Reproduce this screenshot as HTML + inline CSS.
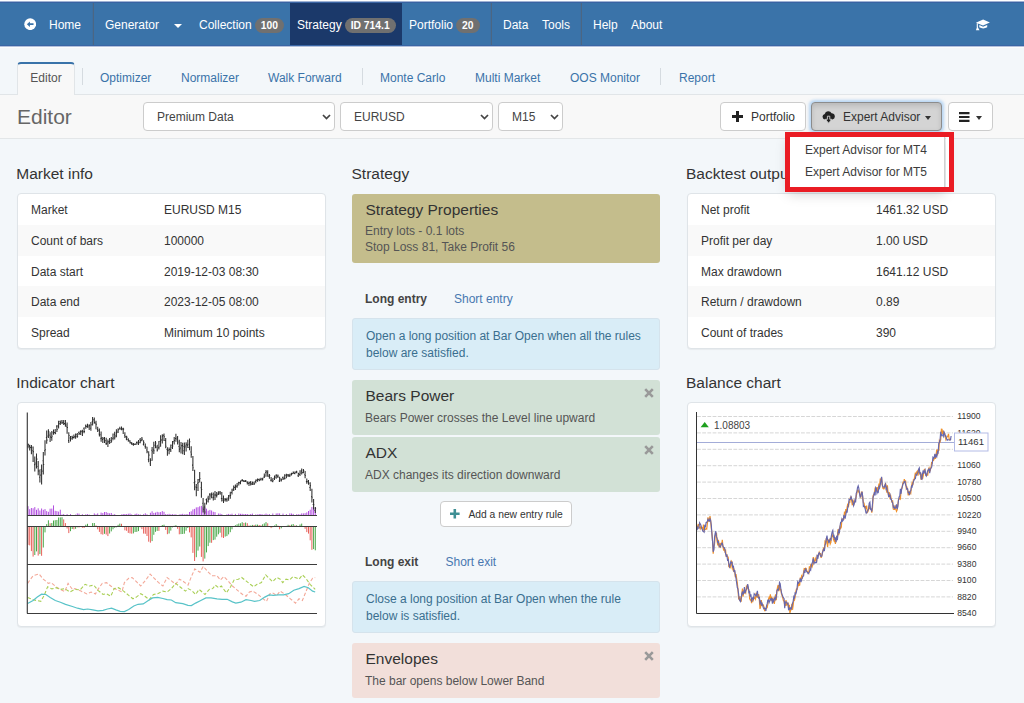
<!DOCTYPE html>
<html>
<head>
<meta charset="utf-8">
<title>Editor</title>
<style>
*{box-sizing:border-box;}
html,body{margin:0;padding:0;}
body{width:1024px;height:703px;overflow:hidden;background:#f3f7fa;font-family:"Liberation Sans",Arial,sans-serif;font-size:12px;color:#333;position:relative;}
.abs{position:absolute;}
#topline{left:0;top:0;width:1024px;height:3px;background:linear-gradient(#fff 0,#fff 1px,#9fb2d4 1px,#9fb2d4 2px,#3963a2 2px,#3963a2 3px);z-index:5;}
#botline{left:0;top:45px;width:1024px;height:3px;background:linear-gradient(#3a66a5 0,#3a66a5 1px,#b3c1dc 1px,#b3c1dc 2px,#fbfcfd 2px,#fbfcfd 3px);z-index:5;}
#nav{left:0;top:2px;width:1024px;height:44px;background:#3a73a9;}
#nav .it{position:absolute;top:0;height:44px;line-height:46px;color:#fff;font-size:12px;white-space:nowrap;}
#nav .sep{position:absolute;top:0;width:1px;height:44px;background:#4b6683;box-shadow:-1px 0 0 rgba(70,100,140,.25);}
#nav .badge{display:inline-block;background:#707070;color:#fff;font-weight:bold;font-size:10.3px;line-height:15px;height:15px;padding:0 6px;border-radius:8px;vertical-align:middle;position:relative;top:-0.5px;margin-left:3px;}
#nav .active{background:#1b396a;}
.caret{display:inline-block;width:0;height:0;border-left:4px solid transparent;border-right:4px solid transparent;border-top:4px solid currentColor;vertical-align:middle;}
#tabs{left:0;top:46px;width:1024px;height:49px;border-bottom:1px solid #e1e5e8;}
#tabs .t{position:absolute;top:16px;height:33px;line-height:32px;color:#3a73a9;font-size:12px;white-space:nowrap;}
#tabs .act{left:17px;width:58px;top:16px;height:33px;background:#f8f8f8;border:1px solid #e1e5e8;border-top:2px solid #3a73a9;border-bottom:none;border-radius:4px 4px 0 0;color:#555;text-align:center;line-height:28px;}
#tabs .vs{position:absolute;top:22px;width:1px;height:17px;background:#d5dbe0;}
#bar{left:0;top:95px;width:1024px;height:44px;border-bottom:1px solid #e3e6e8;background:#f8f8f8;}
#bar h1{position:absolute;left:17px;top:0;margin:0;font-size:21px;font-weight:normal;color:#666;line-height:43px;}
.sel{position:absolute;top:7px;height:29px;background:#fff;border:1px solid #ccc;border-radius:4px;line-height:29px;padding-left:13px;color:#444;font-size:12px;}
.sel svg{position:absolute;right:3px;top:11px;}
.btn{position:absolute;top:7px;height:29px;background:#fff;border:1px solid #ccc;border-radius:4px;line-height:29px;color:#333;font-size:12px;white-space:nowrap;}
h3{position:absolute;margin:0;font-size:15.5px;font-weight:normal;color:#333;line-height:18px;}
.panel{position:absolute;background:#fff;border:1px solid #dfe4e8;border-radius:4px;box-shadow:0 1px 1px rgba(0,0,0,.05);overflow:hidden;}
.row{position:relative;height:30.8px;line-height:32.8px;font-size:12px;color:#333;}
.row.alt{background:#f9f9f9;}
.row span{position:absolute;top:0;}
.slot{position:absolute;left:352px;width:308px;border-radius:3px;}
.slot .h{position:absolute;left:13.5px;font-size:15.5px;color:#333;white-space:nowrap;}
.slot .d{position:absolute;left:13px;font-size:12px;color:#555;white-space:nowrap;}
.slot .x{position:absolute;right:6px;top:7.5px;width:10px;height:10px;}
.info{position:absolute;left:352px;width:308px;background:#d9edf7;border:1px solid #d5e3ec;border-radius:3px;color:#3a6f8f;font-size:12px;line-height:17.2px;padding:8.6px 13px;white-space:nowrap;}
</style>
</head>
<body>
<div id="topline" class="abs"></div><div id="botline" class="abs"></div>

<div id="nav" class="abs">
  <div class="it" style="left:24px;width:14px;"><svg width="12.4" height="12.4" viewBox="0 0 13 13" style="position:absolute;top:15.7px;left:-0.4px"><circle cx="6.5" cy="6.5" r="6.2" fill="#fff"/><path d="M3 6.5 L6.2 3.6 L6.2 5.6 L10 5.6 L10 7.4 L6.2 7.4 L6.2 9.4 Z" fill="#3a73a9"/></svg></div>
  <div class="it" style="left:49px;">Home</div>
  <div class="sep" style="left:93px;"></div>
  <div class="it" style="left:105px;">Generator</div>
  <div class="it" style="left:174px;"><span class="caret"></span></div>
  <div class="it" style="left:199px;">Collection<span class="badge">100</span></div>
  <div class="it active" style="left:290px;width:112px;padding-left:7px;">Strategy<span class="badge">ID 714.1</span></div>
  <div class="it" style="left:409px;">Portfolio<span class="badge">20</span></div>
  <div class="sep" style="left:491px;"></div>
  <div class="it" style="left:503px;">Data</div>
  <div class="it" style="left:542px;">Tools</div>
  <div class="sep" style="left:581px;"></div>
  <div class="it" style="left:593px;">Help</div>
  <div class="it" style="left:631px;">About</div>
  <div class="it" style="left:975px;"><svg width="16" height="14" viewBox="0 0 16 14" style="position:absolute;top:16px;left:0"><path d="M0.9 4.7 L8.1 1.6 L14.9 4.5 L8 7.5 Z" fill="#fff"/><path d="M4.3 7.1 L8.1 8.8 L12.2 7.0 L12.2 9.3 Q8.2 11.6 4.3 9.3 Z" fill="#fff"/><path d="M2.3 5.2 L2.3 9.5" stroke="#fff" stroke-width="1.1"/><path d="M2.3 8.2 L0.9 12.3 L4.5 12.3 Z" fill="#fff"/></svg></div>
</div>

<div id="tabs" class="abs">
  <div class="t act">Editor</div>
  <div class="vs" style="left:82px;"></div>
  <div class="t" style="left:100px;">Optimizer</div>
  <div class="t" style="left:181px;">Normalizer</div>
  <div class="t" style="left:268px;">Walk Forward</div>
  <div class="vs" style="left:362px;"></div>
  <div class="t" style="left:380px;">Monte Carlo</div>
  <div class="t" style="left:475px;">Multi Market</div>
  <div class="t" style="left:570px;">OOS Monitor</div>
  <div class="vs" style="left:660px;"></div>
  <div class="t" style="left:679px;">Report</div>
</div>

<div id="bar" class="abs">
  <h1>Editor</h1>
  <div class="sel" style="left:143px;width:192px;">Premium Data<svg width="9" height="6" viewBox="0 0 9 6"><path d="M1 1 L4.5 4.6 L8 1" fill="none" stroke="#444" stroke-width="1.7"/></svg></div>
  <div class="sel" style="left:340px;width:153px;">EURUSD<svg width="9" height="6" viewBox="0 0 9 6"><path d="M1 1 L4.5 4.6 L8 1" fill="none" stroke="#444" stroke-width="1.7"/></svg></div>
  <div class="sel" style="left:498px;width:65px;">M15<svg width="9" height="6" viewBox="0 0 9 6"><path d="M1 1 L4.5 4.6 L8 1" fill="none" stroke="#444" stroke-width="1.7"/></svg></div>
  <div class="btn" style="left:720px;width:86px;"><svg width="11" height="11" viewBox="0 0 11 11" style="position:absolute;left:11px;top:8px;"><path d="M4 0h3v4h4v3h-4v4h-3v-4h-4v-3h4z" fill="#222"/></svg><span style="position:absolute;left:30px;">Portfolio</span></div>
  <div class="btn" style="left:811px;width:131px;background:#d4d4d4;border-color:#8c8c8c;box-shadow:inset 0 3px 5px rgba(0,0,0,.125),0 0 3px 1.5px rgba(120,180,240,.5);"><svg width="14" height="13" viewBox="0 0 14 13" style="position:absolute;left:10px;top:8px;"><path d="M3.4 8.6 A2.9 2.9 0 0 1 2.7 2.9 A3.7 3.7 0 0 1 9.6 2.3 A3.2 3.2 0 0 1 10.4 8.6 Z" fill="#222"/><path d="M6.6 12.2 L3.4 8.3 L5.4 8.3 L5.4 5.2 L7.8 5.2 L7.8 8.3 L9.8 8.3 Z" fill="#222" stroke="#d4d4d4" stroke-width="0.9"/></svg><span style="position:absolute;left:31px;">Expert Advisor</span><span class="caret" style="position:absolute;left:113px;top:13px;border-width:4px 3.5px 0 3.5px;"></span></div>
  <div class="btn" style="left:948px;width:45px;"><svg width="11" height="10" viewBox="0 0 11 10" style="position:absolute;left:10px;top:9px;"><path d="M0 0h10.5v2.2h-10.5zM0 3.9h10.5v2.2h-10.5zM0 7.8h10.5v2.2h-10.5z" fill="#222"/></svg><span class="caret" style="position:absolute;left:27px;top:13px;border-width:4px 3.5px 0 3.5px;"></span></div>
</div>

<!-- LEFT COLUMN -->
<h3 style="left:16.3px;top:165px;">Market info</h3>
<div class="panel" style="left:17px;top:193px;width:309px;height:156px;">
  <div class="row"><span style="left:13px;">Market</span><span style="left:146px;">EURUSD M15</span></div>
  <div class="row alt"><span style="left:13px;">Count of bars</span><span style="left:146px;">100000</span></div>
  <div class="row"><span style="left:13px;">Data start</span><span style="left:146px;">2019-12-03 08:30</span></div>
  <div class="row alt"><span style="left:13px;">Data end</span><span style="left:146px;">2023-12-05 08:00</span></div>
  <div class="row"><span style="left:13px;">Spread</span><span style="left:146px;">Minimum 10 points</span></div>
</div>
<h3 style="left:16.3px;top:374px;">Indicator chart</h3>
<div class="panel" id="indpanel" style="left:17px;top:402px;width:309px;height:225px;">
<!--INDCHART-->
</div>

<!-- MIDDLE COLUMN -->
<h3 style="left:351.5px;top:165px;">Strategy</h3>
<div class="slot" style="top:194px;height:69px;background:#c4bd8c;">
  <div class="h" style="top:6.5px;">Strategy Properties</div>
  <div class="d" style="top:30.3px;line-height:15.3px;">Entry lots - 0.1 lots<br>Stop Loss 81, Take Profit 56</div>
</div>
<div class="abs" style="left:365px;top:292px;font-weight:bold;font-size:12px;color:#444;">Long entry</div>
<div class="abs" style="left:454px;top:292px;font-size:12px;color:#4878b0;">Short entry</div>
<div class="info" style="top:318px;height:52px;">Open a long position at Bar Open when all the rules<br>below are satisfied.</div>
<div class="slot" style="top:380px;height:55px;background:#d2e1d6;">
  <div class="h" style="top:7px;">Bears Power</div>
  <div class="d" style="top:31px;">Bears Power crosses the Level line upward</div>
  <svg class="x" viewBox="0 0 10 10"><path d="M1.2 1.2L8.8 8.8M8.8 1.2L1.2 8.8" stroke="#999" stroke-width="2.6"/></svg>
</div>
<div class="slot" style="top:437px;height:55px;background:#d2e1d6;">
  <div class="h" style="top:7px;">ADX</div>
  <div class="d" style="top:31px;">ADX changes its direction downward</div>
  <svg class="x" viewBox="0 0 10 10"><path d="M1.2 1.2L8.8 8.8M8.8 1.2L1.2 8.8" stroke="#999" stroke-width="2.6"/></svg>
</div>
<div class="btn" style="left:440px;top:501px;width:132px;height:26px;line-height:25px;font-size:10.3px;border-color:#ccc;"><svg width="9.6" height="9.6" viewBox="0 0 9 9" style="position:absolute;left:9px;top:7.2px;"><path d="M3.3 0h2.4v3.3h3.3v2.4h-3.3v3.3h-2.4v-3.3h-3.3v-2.4h3.3z" fill="#3e8f94"/></svg><span style="position:absolute;left:27.4px;">Add a new entry rule</span></div>
<div class="abs" style="left:365px;top:555px;font-weight:bold;font-size:12px;color:#444;">Long exit</div>
<div class="abs" style="left:445.5px;top:555px;font-size:12px;color:#4878b0;">Short exit</div>
<div class="info" style="top:581px;height:52px;">Close a long position at Bar Open when the rule<br>below is satisfied.</div>
<div class="slot" style="top:643px;height:55px;background:#f2dfda;">
  <div class="h" style="top:6.5px;">Envelopes</div>
  <div class="d" style="top:30.5px;">The bar opens below Lower Band</div>
  <svg class="x" viewBox="0 0 10 10"><path d="M1.2 1.2L8.8 8.8M8.8 1.2L1.2 8.8" stroke="#999" stroke-width="2.6"/></svg>
</div>

<!-- RIGHT COLUMN -->
<h3 style="left:686px;top:165px;">Backtest output</h3>
<div class="panel" style="left:687px;top:193px;width:309px;height:156px;">
  <div class="row"><span style="left:13px;">Net profit</span><span style="left:188px;">1461.32 USD</span></div>
  <div class="row alt"><span style="left:13px;">Profit per day</span><span style="left:188px;">1.00 USD</span></div>
  <div class="row"><span style="left:13px;">Max drawdown</span><span style="left:188px;">1641.12 USD</span></div>
  <div class="row alt"><span style="left:13px;">Return / drawdown</span><span style="left:188px;">0.89</span></div>
  <div class="row"><span style="left:13px;">Count of trades</span><span style="left:188px;">390</span></div>
</div>
<h3 style="left:686px;top:374px;">Balance chart</h3>
<div class="panel" id="balpanel" style="left:687px;top:402px;width:309px;height:225px;">
<!--BALCHART-->
</div>











<!--INDSTART--><svg class="abs" style="left:0;top:0;" width="1024" height="703">
<path d="M28.0 515V506.2M29.7 515V509.2M31.4 515V508.0M33.1 515V508.3M34.8 515V507.1M36.5 515V509.8M38.2 515V508.3M39.9 515V510.5M41.6 515V508.5M43.3 515V509.8M45.0 515V509.1M46.7 515V511.1M48.4 515V511.8M50.1 515V508.7M51.8 515V508.6M53.5 515V505.4M55.2 515V510.8M56.9 515V511.1M58.6 515V511.6M60.3 515V509.7M62.0 515V514.5M63.7 515V514.1M65.4 515V515.0M67.1 515V514.1M68.8 515V515.0M70.5 515V514.1M72.2 515V515.0M73.9 515V515.0M75.6 515V514.6M77.3 515V513.4M79.0 515V513.6M80.7 515V515.0M82.4 515V514.2M84.1 515V515.0M85.8 515V514.3M87.5 515V514.2M89.2 515V514.6M90.9 515V515.0M92.6 515V515.0M94.3 515V513.4M96.0 515V514.3M97.7 515V513.4M99.4 515V515.0M101.1 515V512.6M102.8 515V513.1M104.5 515V512.0M106.2 515V512.0M107.9 515V512.9M109.6 515V513.3M111.3 515V513.0M113.0 515V514.6M114.7 515V514.2M116.4 515V515.0M118.1 515V515.0M119.8 515V515.0M121.5 515V514.5M123.2 515V514.0M124.9 515V514.0M126.6 515V514.1M128.3 515V513.7M130.0 515V513.5M131.7 515V514.4M133.4 515V515.0M135.1 515V513.9M136.8 515V513.6M138.5 515V514.3M140.2 515V514.4M141.9 515V515.0M143.6 515V514.2M145.3 515V513.3M147.0 515V514.3M148.7 515V515.0M150.4 515V512.8M152.1 515V511.3M153.8 515V512.9M155.5 515V512.6M157.2 515V511.8M158.9 515V512.3M160.6 515V512.1M162.3 515V511.1M164.0 515V511.8M165.7 515V514.1M167.4 515V514.3M169.1 515V513.8M170.8 515V514.3M172.5 515V514.2M174.2 515V514.4M175.9 515V514.3M177.6 515V515.0M179.3 515V514.5M181.0 515V514.1M182.7 515V513.8M184.4 515V514.4M186.1 515V514.1M187.8 515V514.2M189.5 515V512.0M191.2 515V511.3M192.9 515V509.4M194.6 515V508.9M196.3 515V507.4M198.0 515V507.2M199.7 515V506.3M201.4 515V505.9M203.1 515V507.3M204.8 515V507.5M206.5 515V508.7M208.2 515V510.7M209.9 515V509.9M211.6 515V510.5M213.3 515V511.8M215.0 515V512.1M216.7 515V515.0M218.4 515V513.5M220.1 515V513.6M221.8 515V514.1M223.5 515V515.0M225.2 515V515.0M226.9 515V514.3M228.6 515V513.9M230.3 515V514.4M232.0 515V513.7M233.7 515V515.0M235.4 515V513.9M237.1 515V515.0M238.8 515V513.5M240.5 515V513.8M242.2 515V513.8M243.9 515V514.1M245.6 515V514.0M247.3 515V514.0M249.0 515V514.6M250.7 515V514.0M252.4 515V513.6M254.1 515V515.0M255.8 515V514.4M257.5 515V514.5M259.2 515V514.0M260.9 515V514.0M262.6 515V514.5M264.3 515V514.5M266.0 515V513.6M267.7 515V514.5M269.4 515V514.1M271.1 515V515.0M272.8 515V513.5M274.5 515V515.0M276.2 515V513.5M277.9 515V513.3M279.6 515V513.4M281.3 515V515.0M283.0 515V513.6M284.7 515V515.0M286.4 515V514.1M288.1 515V515.0M289.8 515V513.4M291.5 515V513.5M293.2 515V513.9M294.9 515V515.0M296.6 515V514.3M298.3 515V514.2M300.0 515V514.4M301.7 515V513.4M303.4 515V513.4M305.1 515V513.2M306.8 515V512.4M308.5 515V511.0M310.2 515V509.7M311.9 515V507.0M313.6 515V507.2M315.3 515V508.3" stroke="#b24fe0" stroke-width="1" fill="none"/>
<path d="M28.0 443.4V448.3M27.1 446.3H28.0M28.0 444.6H28.9M29.7 444.8V450.4M28.8 446.1H29.7M29.7 447.6H30.6M31.4 445.0V454.2M30.5 447.2H31.4M31.4 447.3H32.2M33.1 446.4V462.1M32.2 450.7H33.1M33.1 451.7H34.0M34.8 456.4V471.5M34.0 464.7H34.8M34.8 463.0H35.7M36.5 453.5V468.5M35.7 464.3H36.5M36.5 459.1H37.4M38.2 461.1V475.3M37.4 466.5H38.2M38.2 470.9H39.1M39.9 469.6V482.6M39.1 477.2H39.9M39.9 475.1H40.8M41.6 464.6V484.6M40.8 469.4H41.6M41.6 471.1H42.5M43.3 452.0V474.5M42.5 460.7H43.3M43.3 464.4H44.2M45.0 440.3V455.5M44.2 450.6H45.0M45.0 449.7H45.9M46.7 430.6V443.8M45.9 437.4H46.7M46.7 440.1H47.6M48.4 429.2V437.9M47.6 436.1H48.4M48.4 431.6H49.3M50.1 432.2V442.0M49.3 435.1H50.1M50.1 437.0H51.0M51.8 431.1V440.7M51.0 437.4H51.8M51.8 436.3H52.7M53.5 429.6V434.8M52.7 432.8H53.5M53.5 432.5H54.4M55.2 429.1V434.3M54.4 432.8H55.2M55.2 433.1H56.1M56.9 425.1V432.1M56.1 426.8H56.9M56.9 429.4H57.8M58.6 420.7V428.5M57.8 426.1H58.6M58.6 423.6H59.5M60.3 420.4V425.1M59.5 421.4H60.3M60.3 422.6H61.2M62.0 420.1V424.1M61.2 421.0H62.0M62.0 422.7H62.9M63.7 420.0V424.9M62.9 422.2H63.7M63.7 423.6H64.6M65.4 420.0V426.7M64.6 423.6H65.4M65.4 424.9H66.3M67.1 422.5V433.7M66.3 426.6H67.1M67.1 427.5H68.0M68.8 432.2V443.0M68.0 440.6H68.8M68.8 435.4H69.7M70.5 436.0V441.4M69.7 437.9H70.5M70.5 438.7H71.4M72.2 435.8V439.7M71.4 436.6H72.2M72.2 437.6H73.1M73.9 434.4V438.4M73.1 437.5H73.9M73.9 436.9H74.8M75.6 433.4V438.7M74.8 436.6H75.6M75.6 434.6H76.5M77.3 433.0V437.7M76.5 436.4H77.3M77.3 436.2H78.2M79.0 431.6V435.1M78.2 432.5H79.0M79.0 433.6H79.9M80.7 430.3V434.9M79.9 431.8H80.7M80.7 431.7H81.6M82.4 429.8V436.1M81.6 431.0H82.4M82.4 431.6H83.3M84.1 427.2V433.2M83.3 428.5H84.1M84.1 431.5H85.0M85.8 424.5V428.7M85.0 426.0H85.8M85.8 426.2H86.7M87.5 423.7V427.7M86.7 426.6H87.5M87.5 426.9H88.4M89.2 424.2V430.1M88.4 425.7H89.2M89.2 425.7H90.1M90.9 422.1V430.8M90.1 428.2H90.9M90.9 424.7H91.8M92.6 417.1V425.5M91.8 421.4H92.6M92.6 419.5H93.5M94.3 417.4V423.7M93.5 420.7H94.3M94.3 422.4H95.2M96.0 420.7V429.2M95.2 423.8H96.0M96.0 424.3H96.9M97.7 426.7V431.9M96.9 429.4H97.7M97.7 430.2H98.6M99.4 428.4V436.4M98.6 433.9H99.4M99.4 434.7H100.3M101.1 431.5V441.7M100.3 438.6H101.1M101.1 438.1H102.0M102.8 437.0V442.9M102.0 439.5H102.8M102.8 438.3H103.7M104.5 436.9V442.9M103.7 439.0H104.5M104.5 440.6H105.4M106.2 437.8V444.9M105.4 443.2H106.2M106.2 443.4H107.1M107.9 439.5V447.1M107.1 442.0H107.9M107.9 442.0H108.8M109.6 438.0V444.1M108.8 441.5H109.6M109.6 442.5H110.5M111.3 437.1V442.7M110.5 440.4H111.3M111.3 440.9H112.2M113.0 433.4V440.2M112.2 438.5H113.0M113.0 438.0H113.9M114.7 431.8V439.6M113.9 434.2H114.7M114.7 437.0H115.6M116.4 429.3V437.3M115.6 435.6H116.4M116.4 432.8H117.3M118.1 428.3V433.0M117.3 431.3H118.1M118.1 429.7H119.0M119.8 426.8V429.6M119.0 428.9H119.8M119.8 428.7H120.7M121.5 426.4V430.2M120.7 429.3H121.5M121.5 428.6H122.4M123.2 427.7V434.1M122.4 429.5H123.2M123.2 429.1H124.1M124.9 432.3V438.0M124.1 435.2H124.9M124.9 436.6H125.8M126.6 435.7V440.3M125.8 438.9H126.6M126.6 437.2H127.5M128.3 438.3V441.7M127.5 439.5H128.3M128.3 440.2H129.2M130.0 440.3V443.4M129.2 441.1H130.0M130.0 442.6H130.9M131.7 442.1V444.8M130.9 443.6H131.7M131.7 444.1H132.6M133.4 442.9V445.7M132.6 444.3H133.4M133.4 444.3H134.3M135.1 443.5V445.0M134.3 444.2H135.1M135.1 443.9H136.0M136.8 441.4V444.7M136.0 442.4H136.8M136.8 443.0H137.7M138.5 440.1V444.9M137.7 442.0H138.5M138.5 442.6H139.4M140.2 438.1V443.2M139.4 439.4H140.2M140.2 440.8H141.1M141.9 437.1V441.3M141.1 439.9H141.9M141.9 439.2H142.8M143.6 440.3V445.6M142.8 444.2H143.6M143.6 442.7H144.5M145.3 443.6V448.8M144.5 446.2H145.3M145.3 446.8H146.2M147.0 446.8V453.3M146.2 450.0H147.0M147.0 451.8H147.9M148.7 451.3V462.2M147.9 459.6H148.7M148.7 455.1H149.6M150.4 458.3V466.0M149.6 463.7H150.4M150.4 460.5H151.2M152.1 446.9V460.8M151.2 450.3H152.1M152.1 451.7H152.9M153.8 441.8V454.0M152.9 450.0H153.8M153.8 450.8H154.6M155.5 441.1V448.2M154.6 445.3H155.5M155.5 443.1H156.3M157.2 444.8V451.5M156.3 447.1H157.2M157.2 450.0H158.0M158.9 440.9V449.6M158.0 447.8H158.9M158.9 447.0H159.7M160.6 435.3V446.8M159.7 441.2H160.6M160.6 439.9H161.4M162.3 434.2V443.4M161.4 440.0H162.3M162.3 436.1H163.1M164.0 433.6V441.1M163.1 435.2H164.0M164.0 436.6H164.8M165.7 438.0V448.3M164.8 440.5H165.7M165.7 446.2H166.5M167.4 447.2V455.8M166.5 449.5H167.4M167.4 450.3H168.2M169.1 447.6V454.3M168.2 450.0H169.1M169.1 449.5H169.9M170.8 444.6V452.1M169.9 449.8H170.8M170.8 447.3H171.6M172.5 440.9V448.9M171.6 445.3H172.5M172.5 445.9H173.3M174.2 437.1V444.4M173.3 441.6H174.2M174.2 440.4H175.0M175.9 433.8V441.7M175.0 438.4H175.9M175.9 439.2H176.7M177.6 436.0V444.4M176.7 438.0H177.6M177.6 442.0H178.4M179.3 439.8V452.3M178.4 446.5H179.3M179.3 449.2H180.1M181.0 442.0V453.4M180.1 447.9H181.0M181.0 445.9H181.8M182.7 442.8V454.2M181.8 445.4H182.7M182.7 446.5H183.5M184.4 442.5V455.1M183.5 450.8H184.4M184.4 447.2H185.2M186.1 442.2V451.6M185.2 446.0H186.1M186.1 444.2H186.9M187.8 439.8V448.1M186.9 445.1H187.8M187.8 444.2H188.6M189.5 438.6V450.3M188.6 447.5H189.5M189.5 441.7H190.3M191.2 446.2V457.8M190.3 451.9H191.2M191.2 454.3H192.0M192.9 455.9V470.9M192.0 465.1H192.9M192.9 467.8H193.7M194.6 469.8V490.3M193.7 482.6H194.6M194.6 481.7H195.4M196.3 484.1V496.2M195.4 486.9H196.3M196.3 487.4H197.1M198.0 478.9V491.0M197.1 483.2H198.0M198.0 482.5H198.8M199.7 472.1V482.6M198.8 479.6H199.7M199.7 478.4H200.5M201.4 481.7V497.8M200.5 487.7H201.4M201.4 489.4H202.2M203.1 498.1V512.4M202.2 503.2H203.1M203.1 509.2H203.9M204.8 502.8V514.5M203.9 506.9H204.8M204.8 511.9H205.6M206.5 498.6V504.6M205.6 499.8H206.5M206.5 501.1H207.3M208.2 495.7V502.4M207.3 497.9H208.2M208.2 499.1H209.0M209.9 493.0V499.7M209.0 494.7H209.9M209.9 495.9H210.7M211.6 492.5V498.2M210.7 494.7H211.6M211.6 494.4H212.4M213.3 492.6V500.6M212.4 497.8H213.3M213.3 497.3H214.1M215.0 491.0V500.0M214.1 494.9H215.0M215.0 494.6H215.8M216.7 492.0V497.5M215.8 495.5H216.7M216.7 495.2H217.5M218.4 491.3V495.1M217.5 494.1H218.4M218.4 493.5H219.2M220.1 491.0V494.8M219.2 492.1H220.1M220.1 493.0H220.9M221.8 491.9V501.4M220.9 498.4H221.8M221.8 498.5H222.6M223.5 495.6V503.1M222.6 500.1H223.5M223.5 500.2H224.3M225.2 497.9V501.6M224.3 498.9H225.2M225.2 499.4H226.0M226.9 497.7V501.7M226.0 499.8H226.9M226.9 500.0H227.7M228.6 495.1V500.7M227.7 497.9H228.6M228.6 496.3H229.4M230.3 491.7V498.7M229.4 495.2H230.3M230.3 495.4H231.1M232.0 488.7V494.5M231.1 492.4H232.0M232.0 490.7H232.8M233.7 485.6V491.0M232.8 489.1H233.7M233.7 487.4H234.5M235.4 484.5V490.0M234.5 487.2H235.4M235.4 486.9H236.2M237.1 483.0V487.7M236.2 486.1H237.1M237.1 485.7H237.9M238.8 481.7V485.6M237.9 482.8H238.8M238.8 483.1H239.6M240.5 480.4V484.2M239.6 482.5H240.5M240.5 481.2H241.3M242.2 479.0V481.4M241.3 480.5H242.2M242.2 480.5H243.0M243.9 479.9V482.0M243.0 481.0H243.9M243.9 480.9H244.7M245.6 480.1V481.9M244.7 481.4H245.6M245.6 480.7H246.4M247.3 481.2V484.6M246.4 481.9H247.3M247.3 482.8H248.1M249.0 481.4V485.9M248.1 483.5H249.0M249.0 483.0H249.8M250.7 481.1V485.6M249.8 482.6H250.7M250.7 483.6H251.5M252.4 481.4V485.1M251.5 484.2H252.4M252.4 482.4H253.2M254.1 481.4V484.9M253.2 484.0H254.1M254.1 483.6H254.9M255.8 479.4V483.3M254.9 481.4H255.8M255.8 480.3H256.6M257.5 478.6V481.8M256.6 480.1H257.5M257.5 479.8H258.3M259.2 478.4V481.2M258.3 479.5H259.2M259.2 480.3H260.0M260.9 477.7V480.6M260.0 479.8H260.9M260.9 478.5H261.7M262.6 477.7V480.6M261.7 479.8H262.6M262.6 478.8H263.4M264.3 473.5V478.0M263.4 477.1H264.3M264.3 476.0H265.1M266.0 470.0V476.7M265.1 472.4H266.0M266.0 471.5H266.8M267.7 470.2V476.8M266.8 472.7H267.7M267.7 475.2H268.5M269.4 474.1V478.8M268.5 476.5H269.4M269.4 475.6H270.2M271.1 477.0V481.4M270.2 480.3H271.1M271.1 480.1H271.9M272.8 478.2V482.3M271.9 481.3H272.8M272.8 480.4H273.6M274.5 475.5V479.9M273.6 478.3H274.5M274.5 477.5H275.3M276.2 474.2V478.8M275.3 475.9H276.2M276.2 475.3H277.0M277.9 474.5V478.0M277.0 476.2H277.9M277.9 475.9H278.7M279.6 476.8V482.0M278.7 480.9H279.6M279.6 478.6H280.4M281.3 478.4V481.4M280.4 480.0H281.3M281.3 479.7H282.1M283.0 476.5V479.9M282.1 477.6H283.0M283.0 479.0H283.8M284.7 474.3V479.5M283.8 478.2H284.7M284.7 478.5H285.5M286.4 473.7V478.3M285.5 475.2H286.4M286.4 474.9H287.2M288.1 474.0V477.0M287.2 475.0H288.1M288.1 475.1H288.9M289.8 473.7V477.0M288.9 475.8H289.8M289.8 475.2H290.6M291.5 472.8V475.5M290.6 473.9H291.5M291.5 473.9H292.3M293.2 471.5V473.9M292.3 473.4H293.2M293.2 472.2H294.0M294.9 471.4V474.2M294.0 473.4H294.9M294.9 472.3H295.7M296.6 470.7V473.3M295.7 471.9H296.6M296.6 471.9H297.4M298.3 472.7V477.0M297.4 475.8H298.3M298.3 473.6H299.1M300.0 470.3V475.9M299.1 474.4H300.0M300.0 473.0H300.8M301.7 468.4V474.5M300.8 471.0H301.7M301.7 473.0H302.5M303.4 469.0V473.3M302.5 472.4H303.4M303.4 470.5H304.2M305.1 471.1V478.3M304.2 474.8H305.1M305.1 475.5H305.9M306.8 478.4V483.8M305.9 481.6H306.8M306.8 482.0H307.6M308.5 480.1V484.8M307.6 481.2H308.5M308.5 483.2H309.3M310.2 482.3V491.1M309.3 487.5H310.2M310.2 485.7H311.0M311.9 488.7V502.6M311.0 496.8H311.9M311.9 497.3H312.7M313.6 499.0V509.5M312.7 504.4H313.6M313.6 504.8H314.4M315.3 507.0V513.1M314.4 510.4H315.3M315.3 508.2H316.1" stroke="#2e2e2e" stroke-width="1.05" fill="none"/>
<path d="M28.0 526.5V544.9M29.7 526.5V545.4M31.4 526.5V551.1M33.1 526.5V556.6M38.2 526.5V555.6M41.6 526.5V555.8M50.1 526.5V523.3M63.7 526.5V519.4M65.4 526.5V523.1M67.1 526.5V528.5M68.8 526.5V533.1M73.9 526.5V529.3M79.0 526.5V527.5M82.4 526.5V527.8M84.1 526.5V528.0M96.0 526.5V525.4M97.7 526.5V529.3M99.4 526.5V531.9M101.1 526.5V534.2M102.8 526.5V534.6M106.2 526.5V534.5M107.9 526.5V536.1M121.5 526.5V523.8M124.9 526.5V530.3M126.6 526.5V530.8M128.3 526.5V532.9M130.0 526.5V533.4M131.7 526.5V533.7M141.9 526.5V529.2M143.6 526.5V533.6M145.3 526.5V533.8M147.0 526.5V536.0M148.7 526.5V541.7M150.4 526.5V542.7M158.9 526.5V530.9M165.7 526.5V529.9M167.4 526.5V534.2M177.6 526.5V528.8M179.3 526.5V534.3M189.5 526.5V532.4M191.2 526.5V537.4M192.9 526.5V552.9M194.6 526.5V561.0M201.4 526.5V556.9M203.1 526.5V561.4M211.6 526.5V542.8M221.8 526.5V537.3M223.5 526.5V538.0M243.9 526.5V523.0M247.3 526.5V523.2M249.0 526.5V525.5M254.1 526.5V525.0M259.2 526.5V525.0M260.9 526.5V525.3M267.7 526.5V523.3M271.1 526.5V528.1M277.9 526.5V525.6M279.6 526.5V529.3M289.8 526.5V525.2M294.9 526.5V525.4M305.1 526.5V528.8M306.8 526.5V532.1M308.5 526.5V533.6M310.2 526.5V540.3M311.9 526.5V549.8" stroke="#e8605a" stroke-width="1" fill="none"/>
<path d="M34.8 526.5V555.0M36.5 526.5V551.4M39.9 526.5V554.1M43.3 526.5V547.5M45.0 526.5V532.4M46.7 526.5V524.1M48.4 526.5V520.3M51.8 526.5V523.0M53.5 526.5V520.5M55.2 526.5V520.2M56.9 526.5V520.0M58.6 526.5V517.5M60.3 526.5V517.4M62.0 526.5V517.2M70.5 526.5V531.2M72.2 526.5V529.0M75.6 526.5V528.8M77.3 526.5V527.3M85.8 526.5V524.7M87.5 526.5V523.8M92.6 526.5V523.1M94.3 526.5V523.0M104.5 526.5V533.8M109.6 526.5V533.5M111.3 526.5V531.4M113.0 526.5V529.3M114.7 526.5V527.8M116.4 526.5V527.3M118.1 526.5V524.8M119.8 526.5V523.6M133.4 526.5V533.4M135.1 526.5V532.0M136.8 526.5V531.9M138.5 526.5V531.1M140.2 526.5V527.3M152.1 526.5V541.1M153.8 526.5V534.8M155.5 526.5V531.8M157.2 526.5V530.9M162.3 526.5V525.0M164.0 526.5V524.7M169.1 526.5V533.5M170.8 526.5V530.6M172.5 526.5V527.4M174.2 526.5V525.8M175.9 526.5V525.2M181.0 526.5V534.1M182.7 526.5V534.0M184.4 526.5V533.7M186.1 526.5V530.7M187.8 526.5V528.0M196.3 526.5V557.2M198.0 526.5V550.6M199.7 526.5V546.5M204.8 526.5V558.6M206.5 526.5V552.4M208.2 526.5V546.1M209.9 526.5V542.7M213.3 526.5V540.1M215.0 526.5V539.6M216.7 526.5V536.7M218.4 526.5V534.3M220.1 526.5V532.7M225.2 526.5V536.6M226.9 526.5V536.1M228.6 526.5V534.4M230.3 526.5V532.2M232.0 526.5V529.3M235.4 526.5V525.2M237.1 526.5V524.3M238.8 526.5V523.5M240.5 526.5V523.3M242.2 526.5V522.2M245.6 526.5V522.5M250.7 526.5V525.5M252.4 526.5V524.9M255.8 526.5V524.6M257.5 526.5V524.6M262.6 526.5V524.3M264.3 526.5V523.4M266.0 526.5V522.1M272.8 526.5V527.2M274.5 526.5V525.5M276.2 526.5V524.1M281.3 526.5V528.3M286.4 526.5V525.9M288.1 526.5V524.8M291.5 526.5V524.6M293.2 526.5V524.0M296.6 526.5V525.3M300.0 526.5V524.5M301.7 526.5V523.6M313.6 526.5V549.1M315.3 526.5V550.3" stroke="#4aa84a" stroke-width="1" fill="none"/>
<polyline points="27.6,583.4 33.1,575.7 39.1,574.0 43.3,579.2 48.4,583.4 51.0,582.6 56.1,586.8 60.4,589.4 64.7,591.6 68.1,583.4 72.4,589.4 74.9,588.6 80.9,591.1 86.9,594.0 91.1,592.0 95.4,594.0 98.0,589.4 102.2,583.4 106.5,582.6 110.8,586.0 114.2,588.6 118.5,590.3 121.9,592.0 124.4,582.6 128.7,578.3 132.1,577.5 136.4,581.7 140.7,586.0 145.8,580.0 150.1,574.0 154.3,578.3 158.6,582.6 162.9,586.0 167.1,577.5 171.4,580.9 175.7,584.3 179.4,579.2 183.7,581.7 188.0,585.1 191.4,576.6 194.8,568.9 199.9,572.3 203.3,566.4 207.6,571.5 211.9,575.7 217.0,575.7 220.4,580.0 223.8,576.6 228.1,580.9 232.4,586.0 237.5,590.3 242.6,594.5 246.0,596.2 249.4,592.0 252.8,591.1 258.0,594.5 263.1,598.8 266.5,601.4 269.9,593.7 272.5,592.8 276.8,595.4 280.2,591.1 285.3,594.5 290.4,598.8 295.5,603.1 299.0,598.8 302.4,600.5 305.8,592.0 309.2,583.4 312.6,578.3 315.2,577.5" stroke="#f3a898" stroke-width="1.1" stroke-dasharray="3.5 2" fill="none"/>
<polyline points="27.6,597.4 33.1,599.7 40.8,601.4 44.2,595.4 47.6,586.8 51.9,588.9 56.1,587.7 60.4,589.4 64.7,588.6 69.8,592.0 74.9,589.4 80.0,589.9 85.2,584.3 89.4,586.0 93.7,585.1 98.0,590.3 103.1,594.5 106.5,593.7 110.8,596.2 114.2,588.6 118.5,587.7 123.6,591.1 128.7,595.4 133.0,598.8 136.4,597.1 140.7,593.7 144.9,596.2 149.2,599.7 153.5,594.5 157.7,593.7 162.9,591.1 167.1,592.0 171.4,588.6 175.7,583.4 181.1,587.7 185.4,591.1 188.0,588.6 191.4,590.3 195.6,594.5 199.1,589.4 205.0,594.5 209.3,589.4 212.7,588.6 215.3,585.1 218.7,587.7 221.3,586.0 226.4,592.8 230.6,586.8 234.1,580.0 238.3,579.2 241.7,577.5 246.0,580.9 250.3,584.3 253.7,586.8 257.1,584.3 261.4,582.6 265.7,574.9 269.1,578.3 272.5,581.7 276.8,577.5 280.2,579.2 282.7,582.6 286.1,579.2 289.6,580.0 293.0,576.6 297.2,578.3 299.0,579.2 302.4,574.9 305.8,578.3 310.1,584.3 315.2,589.4" stroke="#a9cf55" stroke-width="1.1" stroke-dasharray="3.5 2" fill="none"/>
<polyline points="27.6,603.6 33.1,600.5 37.3,597.1 41.6,594.2 45.9,594.5 50.2,597.4 55.3,600.5 60.4,602.2 65.5,604.4 72.4,606.5 77.5,608.2 83.5,609.6 87.7,609.0 92.8,609.9 98.0,610.8 103.1,610.4 107.4,609.0 111.6,608.2 115.9,609.9 120.2,611.3 124.4,611.6 128.7,609.6 133.8,606.0 138.1,604.3 143.2,603.9 148.3,600.5 152.6,597.9 157.7,597.4 162.9,598.5 167.1,599.7 171.4,600.0 175.7,602.7 182.8,603.6 188.0,605.3 191.4,605.6 195.6,603.1 200.8,600.5 205.9,597.9 211.0,597.9 217.0,598.8 222.1,599.3 227.2,599.3 232.4,601.9 235.8,603.1 240.9,602.2 246.0,599.7 251.1,600.5 254.6,601.4 259.7,600.5 264.8,597.1 269.1,594.9 273.3,595.4 278.5,594.9 283.6,594.9 288.7,593.7 293.8,590.3 299.0,588.6 304.1,586.5 308.3,587.7 312.6,591.1 315.2,592.0" stroke="#58c3c8" stroke-width="1.2" fill="none"/>
<path d="M27.3 412.5V613.5M27 515.5H317M27 526.5H317M27 564.5H317M27 613.5H317" stroke="#3c3c3c" stroke-width="1.15" fill="none"/>
</svg><!--INDEND-->
<!--BALSTART--><svg class="abs" style="left:0;top:0;font-family:'Liberation Sans',Arial,sans-serif;" width="1024" height="703">
<path d="M697 416.5H953M697 432.9H953M697 449.3H953M697 465.7H953M697 482.1H953M697 498.5H953M697 514.9H953M697 531.3H953M697 547.7H953M697 564.1H953M697 580.5H953M697 596.9H953" stroke="#d6d6d6" stroke-width="1" stroke-dasharray="3.8 1.4" fill="none"/>
<path d="M697 442.5H954" stroke="#a3acd8" stroke-width="1" fill="none"/>
<polyline points="697.0,529.0 697.6,526.4 698.3,524.0 698.9,526.9 699.6,527.7 700.2,528.9 700.9,526.4 701.5,527.1 702.2,527.7 702.8,530.2 703.5,524.5 704.1,530.4 704.8,528.8 705.4,529.4 706.1,528.8 706.7,529.1 707.4,523.3 708.0,517.4 708.7,521.1 709.3,520.7 710.0,516.0 710.6,520.1 711.3,528.4 711.9,532.7 712.6,541.6 713.2,553.6 713.9,546.4 714.5,544.3 715.2,536.1 715.8,533.8 716.5,533.5 717.1,541.3 717.8,545.4 718.4,539.7 719.1,547.3 719.7,543.4 720.4,547.7 721.0,542.9 721.7,545.0 722.3,539.9 723.0,547.2 723.6,549.8 724.3,548.8 724.9,551.5 725.6,550.5 726.2,556.0 726.9,555.3 727.5,556.5 728.2,557.3 728.8,566.4 729.5,567.2 730.1,566.3 730.8,567.5 731.4,561.1 732.1,562.1 732.7,568.9 733.4,570.8 734.0,569.2 734.7,571.3 735.3,577.1 736.0,574.2 736.6,578.4 737.3,583.1 737.9,588.5 738.6,598.5 739.2,599.4 739.9,596.4 740.5,601.4 741.2,601.3 741.8,593.8 742.5,588.6 743.1,596.6 743.8,590.4 744.4,592.8 745.1,591.8 745.7,593.0 746.4,586.5 747.0,587.8 747.7,586.4 748.3,589.7 749.0,589.9 749.6,598.5 750.3,600.1 750.9,599.9 751.6,603.1 752.2,599.7 752.9,600.8 753.5,597.7 754.2,598.5 754.8,597.3 755.5,598.9 756.1,592.9 756.8,597.5 757.4,593.4 758.1,598.0 758.7,594.2 759.4,600.7 760.0,608.9 760.7,606.3 761.3,600.1 762.0,605.6 762.6,605.7 763.3,605.1 763.9,606.6 764.6,610.6 765.2,610.6 765.9,608.2 766.5,608.3 767.2,607.4 767.8,604.5 768.5,599.2 769.1,597.4 769.8,599.4 770.4,594.3 771.1,601.2 771.7,598.1 772.4,599.7 773.0,598.4 773.7,601.6 774.3,603.8 775.0,599.3 775.6,594.3 776.3,600.1 776.9,590.8 777.6,587.0 778.2,585.0 778.9,591.3 779.5,585.0 780.2,589.6 780.8,589.6 781.5,594.2 782.1,595.5 782.8,598.1 783.4,600.4 784.1,601.4 784.7,605.2 785.4,605.3 786.0,600.1 786.7,605.6 787.3,603.2 788.0,603.0 788.6,608.5 789.3,604.9 789.9,613.0 790.6,610.3 791.2,608.5 791.9,603.9 792.5,609.8 793.2,605.0 793.8,599.4 794.5,600.0 795.1,596.9 795.8,591.6 796.4,589.2 797.1,589.4 797.7,587.2 798.4,581.9 799.0,585.5 799.7,585.2 800.3,577.5 801.0,580.5 801.6,576.1 802.3,577.5 802.9,575.5 803.6,572.3 804.2,568.7 804.9,569.1 805.5,568.2 806.2,568.4 806.8,571.1 807.5,571.4 808.1,572.6 808.8,573.3 809.4,566.2 810.1,568.6 810.7,564.9 811.4,566.0 812.0,567.0 812.7,564.8 813.3,557.0 814.0,562.6 814.6,561.8 815.3,558.5 815.9,560.2 816.6,561.0 817.2,555.7 817.9,556.6 818.5,555.6 819.2,552.4 819.8,554.0 820.5,553.6 821.1,557.8 821.8,555.8 822.4,553.1 823.1,549.4 823.7,548.1 824.4,549.5 825.0,541.6 825.7,542.8 826.3,538.4 827.0,541.7 827.6,546.9 828.3,540.2 828.9,541.1 829.6,540.0 830.2,544.0 830.9,542.4 831.5,536.0 832.2,536.2 832.8,534.9 833.5,539.4 834.1,540.9 834.8,538.7 835.4,544.0 836.1,537.8 836.7,536.6 837.4,538.2 838.0,529.4 838.7,535.1 839.3,529.5 840.0,526.9 840.6,528.5 841.3,527.0 841.9,519.4 842.6,519.0 843.2,519.2 843.9,519.1 844.5,511.5 845.2,516.2 845.8,509.0 846.5,511.5 847.1,507.3 847.8,503.7 848.4,507.5 849.1,501.4 849.7,503.0 850.4,497.5 851.0,496.9 851.7,500.6 852.3,505.3 853.0,499.5 853.6,505.4 854.3,501.8 854.9,501.7 855.6,499.0 856.2,496.7 856.9,493.0 857.5,490.2 858.2,490.2 858.8,492.1 859.5,493.6 860.1,495.5 860.8,497.0 861.4,492.1 862.1,492.1 862.7,497.2 863.4,502.8 864.0,502.9 864.7,507.4 865.3,506.7 866.0,508.9 866.6,505.6 867.3,512.3 867.9,511.6 868.6,509.0 869.2,505.3 869.9,508.5 870.5,508.4 871.2,509.4 871.8,512.6 872.5,507.6 873.1,495.6 873.8,494.4 874.4,493.7 875.1,488.3 875.7,488.4 876.4,491.3 877.0,487.2 877.7,490.9 878.3,488.0 879.0,483.6 879.6,487.5 880.3,478.6 880.9,480.2 881.6,477.5 882.2,484.7 882.9,488.2 883.5,488.8 884.2,488.7 884.8,485.6 885.5,483.1 886.1,486.2 886.8,492.8 887.4,485.4 888.1,493.5 888.7,496.7 889.4,492.2 890.0,497.5 890.7,496.0 891.3,499.3 892.0,502.7 892.6,500.4 893.3,509.1 893.9,509.3 894.6,509.4 895.2,505.4 895.9,509.4 896.5,511.4 897.2,509.9 897.8,505.1 898.5,499.5 899.1,499.2 899.8,497.9 900.4,498.8 901.1,489.7 901.7,489.0 902.4,485.6 903.0,482.5 903.7,482.9 904.3,479.2 905.0,481.9 905.6,481.3 906.3,488.5 906.9,487.3 907.6,489.4 908.2,495.4 908.9,491.4 909.5,495.1 910.2,491.6 910.8,492.8 911.5,486.2 912.1,483.3 912.8,485.2 913.4,479.8 914.1,479.6 914.7,476.6 915.4,472.7 916.0,475.2 916.7,472.0 917.3,471.1 918.0,475.7 918.6,471.4 919.3,472.4 919.9,472.4 920.6,475.7 921.2,479.8 921.9,473.6 922.5,479.1 923.2,475.8 923.8,472.2 924.5,468.8 925.1,472.3 925.8,475.3 926.4,474.6 927.1,474.0 927.7,475.6 928.4,469.3 929.0,468.0 929.7,471.3 930.3,470.2 931.0,467.5 931.6,462.6 932.3,462.9 932.9,460.0 933.6,460.3 934.2,458.9 934.9,454.6 935.5,459.0 936.2,454.1 936.8,449.5 937.5,455.5 938.1,449.2 938.8,450.9 939.4,440.5 940.1,441.7 940.7,439.7 941.4,429.2 942.0,429.3 942.7,434.1 943.3,430.9 944.0,434.8 944.6,433.0 945.3,437.2 945.9,439.7 946.6,438.1 947.2,436.6 947.9,436.1 948.5,433.9 949.2,439.5 949.8,439.7 950.5,439.1 951.1,438.9" stroke="#f0912c" stroke-width="1.2" fill="none"/>
<polyline points="697.0,525.9 697.6,529.0 698.3,528.0 698.9,528.0 699.6,522.7 700.2,523.7 700.9,525.2 701.5,528.2 702.2,529.3 702.8,531.2 703.5,531.5 704.1,532.2 704.8,524.8 705.4,527.3 706.1,522.6 706.7,522.5 707.4,521.0 708.0,519.2 708.7,520.7 709.3,521.2 710.0,518.8 710.6,520.3 711.3,525.1 711.9,533.7 712.6,542.0 713.2,551.8 713.9,549.6 714.5,537.6 715.2,533.2 715.8,531.2 716.5,536.9 717.1,538.3 717.8,543.2 718.4,541.2 719.1,545.6 719.7,546.7 720.4,546.9 721.0,544.9 721.7,543.3 722.3,543.2 723.0,546.4 723.6,547.3 724.3,547.6 724.9,549.2 725.6,553.9 726.2,555.8 726.9,555.1 727.5,560.0 728.2,559.5 728.8,563.6 729.5,566.8 730.1,565.2 730.8,561.8 731.4,562.8 732.1,562.4 732.7,567.6 733.4,565.6 734.0,572.0 734.7,570.1 735.3,574.7 736.0,578.3 736.6,582.4 737.3,587.5 737.9,589.0 738.6,593.9 739.2,599.2 739.9,600.6 740.5,601.5 741.2,597.9 741.8,593.9 742.5,591.4 743.1,594.1 743.8,592.9 744.4,587.0 745.1,593.1 745.7,590.8 746.4,589.4 747.0,587.6 747.7,584.2 748.3,587.0 749.0,593.4 749.6,591.0 750.3,596.8 750.9,594.4 751.6,601.8 752.2,598.3 752.9,597.7 753.5,599.1 754.2,593.7 754.8,594.5 755.5,595.1 756.1,595.9 756.8,593.5 757.4,590.9 758.1,596.8 758.7,598.1 759.4,597.4 760.0,603.0 760.7,601.5 761.3,605.5 762.0,603.3 762.6,604.8 763.3,607.7 763.9,608.8 764.6,608.0 765.2,608.5 765.9,610.9 766.5,605.9 767.2,603.7 767.8,600.2 768.5,600.0 769.1,602.6 769.8,600.8 770.4,599.2 771.1,599.6 771.7,597.9 772.4,603.6 773.0,598.9 773.7,601.3 774.3,599.5 775.0,597.2 775.6,599.3 776.3,597.2 776.9,590.7 777.6,589.3 778.2,590.2 778.9,588.3 779.5,582.4 780.2,583.7 780.8,588.5 781.5,592.6 782.1,594.5 782.8,596.5 783.4,597.7 784.1,598.6 784.7,608.3 785.4,602.0 786.0,602.1 786.7,602.1 787.3,603.8 788.0,603.6 788.6,610.2 789.3,608.1 789.9,609.2 790.6,608.0 791.2,609.0 791.9,606.5 792.5,603.3 793.2,601.1 793.8,596.6 794.5,597.6 795.1,593.0 795.8,593.8 796.4,592.0 797.1,587.6 797.7,582.0 798.4,583.3 799.0,582.5 799.7,581.0 800.3,578.3 801.0,582.1 801.6,579.6 802.3,578.1 802.9,576.4 803.6,575.9 804.2,570.3 804.9,572.8 805.5,568.3 806.2,570.5 806.8,571.9 807.5,572.4 808.1,573.6 808.8,572.6 809.4,572.0 810.1,569.2 810.7,570.0 811.4,565.0 812.0,563.6 812.7,561.2 813.3,558.4 814.0,563.5 814.6,562.2 815.3,562.1 815.9,563.0 816.6,562.4 817.2,554.8 817.9,558.8 818.5,553.9 819.2,552.7 819.8,553.5 820.5,556.0 821.1,556.6 821.8,556.1 822.4,552.7 823.1,550.7 823.7,549.3 824.4,551.0 825.0,545.3 825.7,543.4 826.3,538.9 827.0,535.7 827.6,540.0 828.3,540.2 828.9,543.2 829.6,540.9 830.2,538.8 830.9,539.7 831.5,535.0 832.2,531.8 832.8,530.5 833.5,537.6 834.1,536.1 834.8,539.0 835.4,538.3 836.1,542.1 836.7,535.7 837.4,540.2 838.0,532.6 838.7,530.5 839.3,533.4 840.0,526.6 840.6,522.4 841.3,522.0 841.9,519.1 842.6,521.1 843.2,520.3 843.9,515.0 844.5,517.6 845.2,518.1 845.8,514.8 846.5,510.7 847.1,512.7 847.8,506.8 848.4,505.8 849.1,499.3 849.7,499.8 850.4,499.2 851.0,496.7 851.7,498.6 852.3,500.8 853.0,502.4 853.6,505.6 854.3,503.5 854.9,500.4 855.6,502.4 856.2,493.4 856.9,491.6 857.5,487.6 858.2,485.9 858.8,488.2 859.5,493.0 860.1,497.1 860.8,496.6 861.4,493.5 862.1,491.7 862.7,496.6 863.4,506.6 864.0,506.3 864.7,506.5 865.3,509.3 866.0,513.1 866.6,513.2 867.3,511.3 867.9,510.2 868.6,508.8 869.2,503.2 869.9,502.2 870.5,509.2 871.2,509.0 871.8,511.5 872.5,504.0 873.1,497.2 873.8,495.4 874.4,491.9 875.1,495.4 875.7,487.5 876.4,488.6 877.0,493.3 877.7,491.6 878.3,492.2 879.0,485.8 879.6,487.7 880.3,484.4 880.9,481.1 881.6,476.8 882.2,484.4 882.9,486.6 883.5,487.1 884.2,487.1 884.8,485.6 885.5,484.1 886.1,488.9 886.8,487.6 887.4,491.6 888.1,492.5 888.7,496.7 889.4,496.3 890.0,494.9 890.7,499.2 891.3,499.2 892.0,501.7 892.6,502.7 893.3,507.2 893.9,506.3 894.6,508.3 895.2,507.9 895.9,507.7 896.5,504.4 897.2,509.0 897.8,506.7 898.5,500.1 899.1,497.0 899.8,495.9 900.4,488.9 901.1,493.8 901.7,488.8 902.4,486.4 903.0,484.0 903.7,483.0 904.3,481.6 905.0,481.5 905.6,484.8 906.3,486.6 906.9,489.1 907.6,488.8 908.2,492.6 908.9,492.4 909.5,495.0 910.2,491.5 910.8,490.6 911.5,486.2 912.1,487.0 912.8,484.2 913.4,481.8 914.1,480.0 914.7,479.0 915.4,478.7 916.0,474.6 916.7,475.1 917.3,473.2 918.0,472.5 918.6,469.2 919.3,467.9 919.9,474.4 920.6,472.3 921.2,479.0 921.9,479.4 922.5,473.9 923.2,470.3 923.8,473.6 924.5,471.4 925.1,469.9 925.8,474.8 926.4,475.9 927.1,473.0 927.7,470.7 928.4,469.6 929.0,468.9 929.7,473.2 930.3,469.2 931.0,468.0 931.6,467.3 932.3,463.1 932.9,457.4 933.6,458.5 934.2,457.0 934.9,453.8 935.5,457.6 936.2,455.2 936.8,456.5 937.5,452.0 938.1,452.7 938.8,443.4 939.4,442.7 940.1,439.3 940.7,431.7 941.4,435.5 942.0,434.9 942.7,435.0 943.3,436.4 944.0,431.9 944.6,433.3 945.3,436.4 945.9,436.1 946.6,438.6 947.2,440.3 947.9,439.6 948.5,439.8 949.2,440.0 949.8,440.0 950.5,439.9 951.1,436.0" stroke="#6667ad" stroke-width="1.15" fill="none"/>
<path d="M696.5 412V613.5H954" stroke="#333" stroke-width="1" fill="none"/>
<g font-size="8.6" fill="#333" textLength="23"><text x="957.3" y="419.2">11900</text><text x="957.3" y="435.6">11620</text><text x="957.3" y="468.4">11060</text><text x="957.3" y="484.8">10780</text><text x="957.3" y="501.2">10500</text><text x="957.3" y="517.6">10220</text><text x="957.3" y="534.0">9940</text><text x="957.3" y="550.4">9660</text><text x="957.3" y="566.8">9380</text><text x="957.3" y="583.2">9100</text><text x="957.3" y="599.6">8820</text><text x="957.3" y="616.0">8540</text></g>
<rect x="954.5" y="433" width="33.5" height="18" fill="#fff" stroke="#b3bbe6" stroke-width="1"/>
<text x="958" y="445" font-size="9.6" fill="#333">11461</text>
<path d="M700.6 427.3L704.7 421.9L708.8 427.3Z" fill="#1fa01f"/>
<text x="714" y="429" font-size="10" fill="#444">1.08803</text>
</svg><!--BALEND-->
<!-- DROPDOWN -->
<div class="abs" style="left:788px;top:134px;width:157px;height:54px;background:#fff;border-right:1px solid #d0d0d0;box-shadow:0 6px 12px rgba(0,0,0,.175);"></div>
<div class="abs" style="left:946px;top:134px;width:6px;height:56px;background:#fff;"></div>
<div class="abs" style="left:785px;top:132px;width:169px;height:60px;border:5px solid #ea1c24;"></div>
<div class="abs" style="left:805px;top:143px;font-size:12px;color:#3c3c3c;line-height:15px;white-space:nowrap;">Expert Advisor for MT4</div>
<div class="abs" style="left:805px;top:165px;font-size:12px;color:#3c3c3c;line-height:15px;white-space:nowrap;">Expert Advisor for MT5</div>
</body>
</html>
